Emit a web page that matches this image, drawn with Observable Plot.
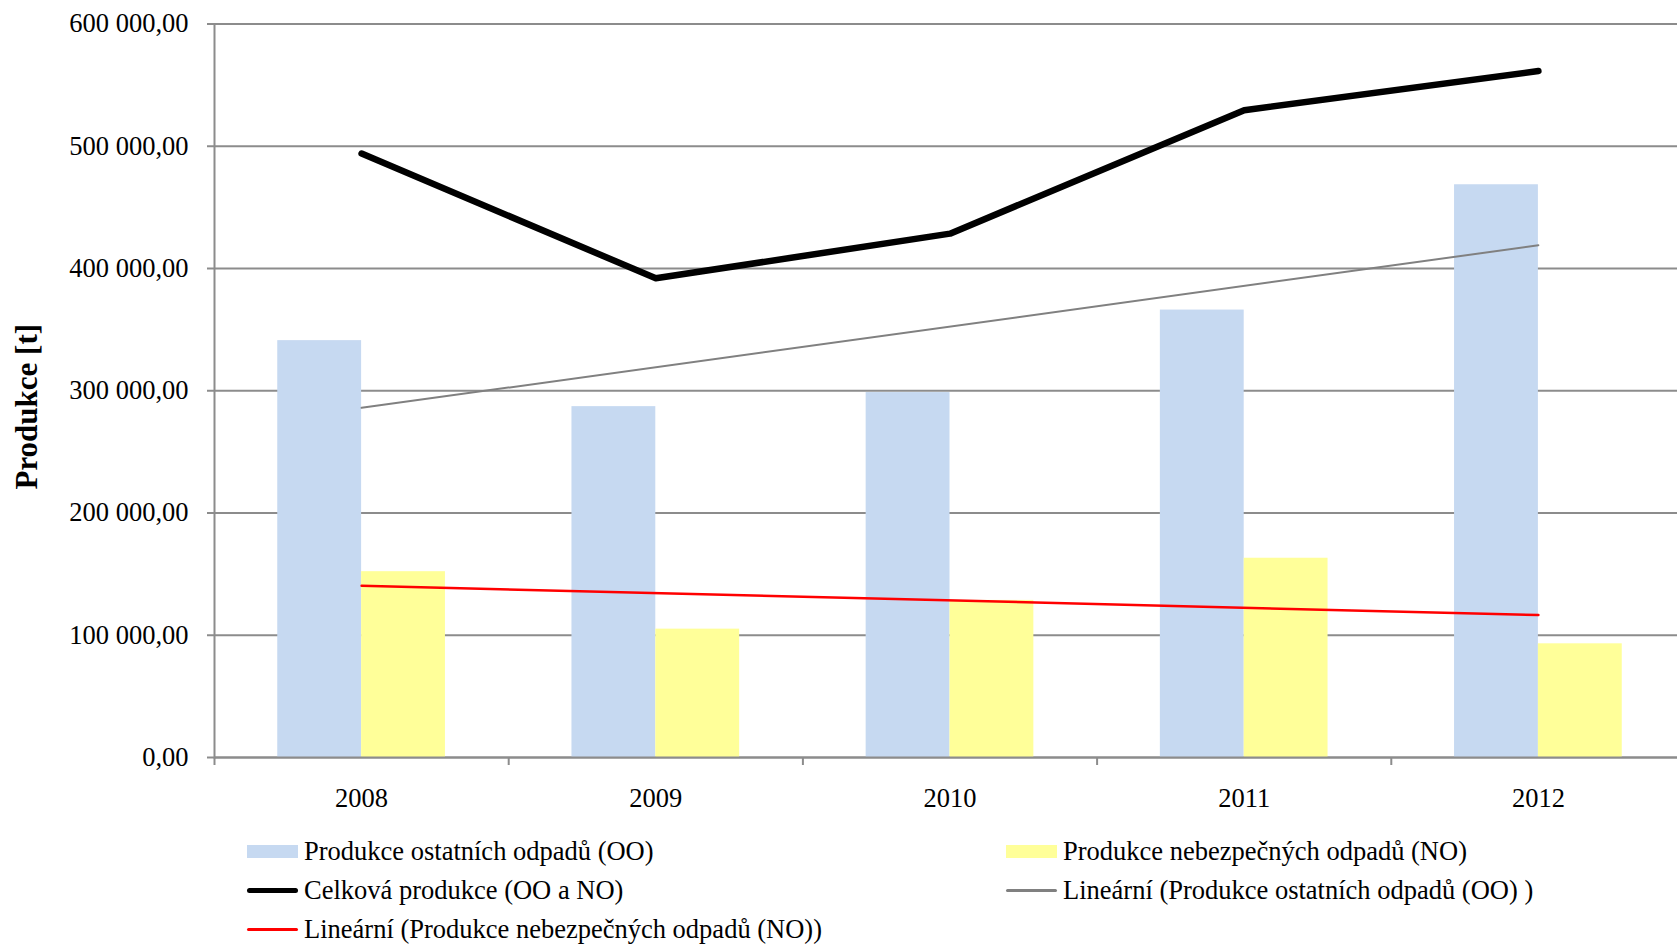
<!DOCTYPE html>
<html>
<head>
<meta charset="utf-8">
<script src="https://cdn.jsdelivr.net/npm/d3@7"></script>
<script src="https://cdn.jsdelivr.net/npm/@observablehq/plot@0.6"></script>
<style>
  html, body { margin: 0; padding: 0; background: white; overflow: hidden; }
  #wrap { width: 1677px; height: 944px; position: relative; font-family: "Liberation Serif", "Times New Roman", serif; }
  #legend { position: relative; height: 124px; font-size: 26.5px; color: black; }
  .item { position: absolute; display: flex; align-items: center; height: 38px; white-space: nowrap; }
  .sw { width: 51px; margin-right: 6px; flex: none; }
</style>
</head>
<body>
<div id="wrap">
  <div id="chart"></div>
  <div id="legend"></div>
</div>
<script>
// ---- data ----
const years = ["2008", "2009", "2010", "2011", "2012"];
const produkceOO = [341000, 287000, 298500, 366000, 468500];
const produkceNO = [152000, 105000, 128500, 163000, 93000];
const celkova = [494000, 392000, 428500, 529500, 561500];
const trendYears = ["2008", "2012"];
const trendOO = [286000, 419000];
const trendNO = [140500, 116500];
const yTicks = [0, 100000, 200000, 300000, 400000, 500000, 600000];

const seriesNames = {
  oo: "Produkce ostatních odpadů (OO)",
  no: "Produkce nebezpečných odpadů (NO)",
  total: "Celková produkce (OO a NO)",
  trOO: "Lineární (Produkce ostatních odpadů (OO) )",
  trNO: "Lineární (Produkce nebezpečných odpadů (NO))"
};
const colors = { oo: "#c6d9f1", no: "#ffff99", total: "#000000", trOO: "#808080", trNO: "#ff0000" };

// ---- build tables ----
const table = years.map((year, i) => ({ year, oo: produkceOO[i], no: produkceNO[i], total: celkova[i] }));
const trOOData = trendYears.map((year, i) => ({ year, v: trendOO[i] }));
const trNOData = trendYears.map((year, i) => ({ year, v: trendNO[i] }));

// ---- layout ----
const W = 1677, H = 820;
const mL = 214, mT = 23.5, mB = 63;
const xEnd = 1685;              // category axis continues slightly past the picture edge
const padInner = 0.43;
const step = (xEnd - mL) / years.length;
const bw = step * (1 - padInner);
const gridColor = "#8c8c8c";

const fmt = d3.formatLocale({ decimal: ",", thousands: " ", grouping: [3], currency: ["", ""] }).format(",.2f");

const chart = Plot.plot({
  width: W,
  height: H,
  marginLeft: mL,
  marginRight: 0,
  marginTop: mT,
  marginBottom: mB,
  style: { fontFamily: "'Liberation Serif', 'Times New Roman', serif", fontSize: "26.5px", background: "white", color: "black", overflow: "visible" },
  x: { type: "band", domain: years, range: [mL, xEnd], paddingInner: padInner, paddingOuter: padInner / 2, round: false },
  y: { domain: [0, 600000] },
  marks: [
    Plot.gridY(yTicks, { stroke: gridColor, strokeOpacity: 1, strokeWidth: 2 }),
    Plot.barY(table, { x: "year", y: "oo", fill: colors.oo, insetRight: bw / 2 }),
    Plot.barY(table, { x: "year", y: "no", fill: colors.no, insetLeft: bw / 2 }),
    Plot.ruleY([0], { stroke: gridColor, strokeWidth: 2 }),
    Plot.frame({ anchor: "left", stroke: gridColor, strokeWidth: 2 }),
    Plot.ruleX(years, { x: d => d, dx: -step / 2, y1: 0, y2: 0, insetBottom: -8, stroke: gridColor, strokeWidth: 2 }),
    Plot.line(trOOData, { x: "year", y: "v", stroke: colors.trOO, strokeWidth: 2 }),
    Plot.line(trNOData, { x: "year", y: "v", stroke: colors.trNO, strokeWidth: 2.5 }),
    Plot.line(table, { x: "year", y: "total", stroke: colors.total, strokeWidth: 6.5, strokeLinecap: "round", strokeLinejoin: "round" }),
    Plot.axisY(yTicks, { tickSize: 7, tickPadding: 19, tickFormat: fmt, stroke: gridColor, strokeWidth: 2, fill: "black", label: null, fontSize: 26.5 }),
    Plot.axisX({ tickSize: 0, tickPadding: 31, label: null, fill: "black", fontSize: 26.5 }),
    Plot.text(["Produkce [t]"], { frameAnchor: "left", textAnchor: "middle", rotate: -90, dx: -187, dy: 16, fontSize: 31, fontWeight: "bold", fill: "black" })
  ]
});
document.getElementById("chart").appendChild(chart);

// ---- legend ----
const legendItems = [
  { key: "oo", kind: "rect", left: 247, top: 12.5 },
  { key: "no", kind: "rect", left: 1006, top: 12.5 },
  { key: "total", kind: "line", w: 5, left: 247, top: 51.5 },
  { key: "trOO", kind: "line", w: 3, left: 1006, top: 51.5 },
  { key: "trNO", kind: "line", w: 3, left: 247, top: 90.5 }
];
const legend = document.getElementById("legend");
for (const it of legendItems) {
  const d = document.createElement("div");
  d.className = "item";
  d.style.left = it.left + "px";
  d.style.top = it.top + "px";
  const sw = document.createElement("div");
  sw.className = "sw";
  sw.style.background = colors[it.key];
  if (it.kind === "rect") {
    sw.style.height = "13px";
  } else {
    sw.style.height = it.w + "px";
    sw.style.borderRadius = (it.w / 2) + "px";
  }
  const t = document.createElement("span");
  t.textContent = seriesNames[it.key];
  d.appendChild(sw);
  d.appendChild(t);
  legend.appendChild(d);
}
</script>
</body>
</html>
